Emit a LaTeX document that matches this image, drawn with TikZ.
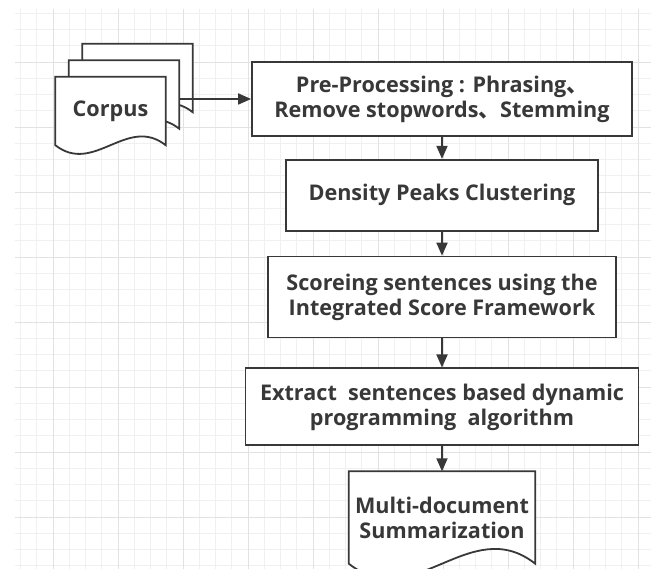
\documentclass[tikz,border=0pt]{standalone}
\usepackage{fontspec}
\setmainfont{Open Sans}
\newfontfamily\cjk{Noto Sans CJK SC}
\usetikzlibrary{positioning,calc,arrows.meta}

\definecolor{ink}{HTML}{383838}
\definecolor{gridminor}{HTML}{F0F0F0}
\definecolor{gridmajor}{HTML}{E2E2E2}

% sheet outline with a wavy bottom edge, #1 = node, #2 = its width
\newcommand{\docsheet}[2]{%
  \path[sheet] (#1.south west) -- (#1.north west) -- (#1.north east) -- (#1.south east)
    .. controls ($(#1.south east)+(-0.35*#2,0.275*#2)$) and ($(#1.south west)+(0.35*#2,-0.275*#2)$) .. (#1.south west) -- cycle;}

\begin{document}
\begin{tikzpicture}[x=1pt,y=1pt,
  flow/.style={draw=ink, line width=1.8pt, -{Triangle[length=13pt,width=11pt]}},
  label/.style={font=\fontsize{21.6}{25}\selectfont\bfseries, text=ink, align=center},
  stepbox/.style={label, draw=ink, line width=1.8pt, fill=white, inner sep=0pt},
  sheet/.style={draw=ink, line width=1.8pt, fill=white},
  page/.style={minimum width=#1pt, minimum height=68pt, inner sep=0pt},
  page/.default=110]

\useasboundingbox (0,0) rectangle (651,569);

% background grid
\begin{scope}
  \clip (15,0) rectangle (651,559);
  \foreach \i in {0,...,39}
    \draw[gridminor, line width=0.7pt] (20.5+16.25*\i,0) -- ++(0,569);
  \foreach \i in {0,...,35}
    \draw[gridminor, line width=0.7pt] (0,555.75-16.25*\i) -- ++(651,0);
  \foreach \x in {53,118,...,651}
    \draw[gridmajor, line width=0.8pt] (\x,0) -- ++(0,569);
  \foreach \y in {507,442,...,0}
    \draw[gridmajor, line width=0.8pt] (0,\y) -- ++(651,0);
\end{scope}

% corpus: three stacked sheets
\node[page] (front) at (110.5,458) {};
\node[page, shift={(13.5,16.5)}] (mid) at (front) {};
\node[page, shift={(13.5,16.5)}] (back) at (mid) {};
\docsheet{back}{110}
\docsheet{mid}{110}
\docsheet{front}{110}
\node[label] (corpus) at (front) {Corpus};

% processing steps
\node[stepbox, minimum width=380pt, minimum height=74pt] (pre) at (442,470)
  {Pre-Processing : Phrasing{\cjk 、}\\Remove stopwords{\cjk 、}Stemming};
\node[stepbox, minimum width=312pt, minimum height=71pt, below=22pt of pre] (dpc)
  {Density Peaks Clustering};
\node[stepbox, minimum width=348pt, minimum height=81pt, below=24pt of dpc] (score)
  {Scoreing sentences using the\\Integrated Score Framework};
\node[stepbox, minimum width=393pt, minimum height=77pt, below=29pt of score] (extract)
  {Extract~~sentences based dynamic\\programming~~algorithm};

% output sheet
\node[page=186, minimum height=92pt, below=25pt of extract] (summ) {};
\docsheet{summ}{186}
\node[label] (summtext) at (summ) {Multi-document\\Summarization};

\coordinate (corpus out) at (mid.east |- pre.west);
\draw[flow] (corpus out) -- (pre);
\draw[flow] (pre) -- (dpc);
\draw[flow] (dpc) -- (score);
\draw[flow] (score) -- (extract);
\draw[flow] (extract) -- (summ);
\end{tikzpicture}
\end{document}
